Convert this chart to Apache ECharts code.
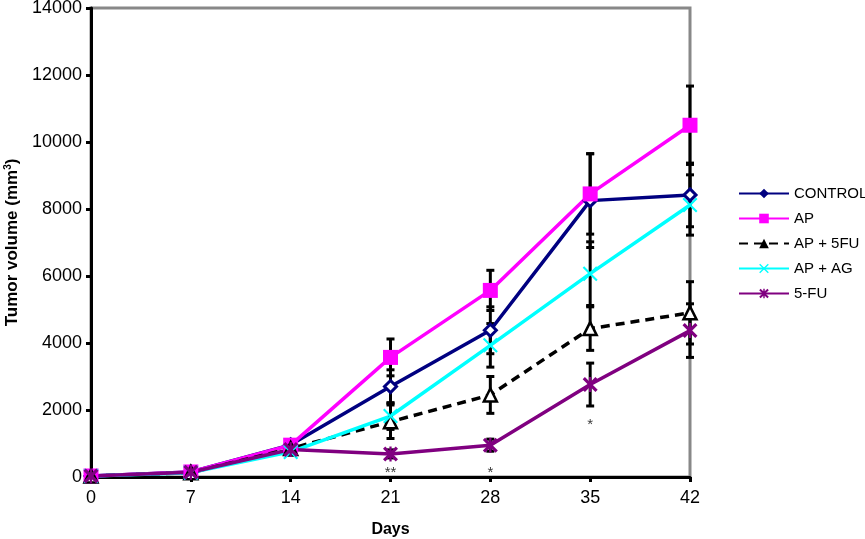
<!DOCTYPE html>
<html>
<head>
<meta charset="utf-8">
<script src="https://cdn.jsdelivr.net/npm/echarts@6/dist/echarts.min.js"></script>
<style>
  html, body { margin: 0; padding: 0; background: #fff; }
  #chart { width: 865px; height: 539px; }
</style>
</head>
<body>
<div id="chart"></div>
<script>
// days of measurement
const days = [0, 7, 14, 21, 28, 35, 42];

// mean tumor volume (mm3)
const control = [30, 150, 960, 2700, 4380, 8250, 8420];
const ap = [30, 150, 950, 3570, 5570, 8450, 10500];
const ap5fu = [30, 130, 850, 1650, 2450, 4430, 4900];
const apag = [30, 130, 750, 1820, 3930, 6070, 8120];
const fu5 = [30, 140, 820, 690, 950, 2760, 4370];

// error (+/-)
const errControl = [0, 20, 100, 500, 700, 1400, 950];
const errAp = [0, 20, 100, 550, 600, 1200, 1170];
const errAp5fu = [0, 20, 100, 500, 550, 650, 930];
const errApag = [0, 20, 100, 400, 650, 950, 900];
const errFu5 = [0, 20, 80, 120, 180, 640, 800];

// significance marks [day, y, text]
const marks = [[21, 110, '**'], [28, 110, '*'], [35, 1550, '*']];

const FONT = 'Liberation Sans, Arial, sans-serif';
const crossPath = 'path://M0,2 L2,0 L10,8 L18,0 L20,2 L12,10 L20,18 L18,20 L10,12 L2,20 L0,18 L8,10 Z';
const starPath = 'path://M0,3 L3,0 L10,7 L17,0 L20,3 L13,10 L20,17 L17,20 L10,13 L3,20 L0,17 L7,10 Z M8.5,0 L11.5,0 L11.5,20 L8.5,20 Z';

function pairs(vals) {
  return days.map((d, i) => [d, vals[i]]);
}

// error bars as custom series (black, with caps)
function errSeries(vals, errs) {
  return {
    type: 'custom',
    silent: true,
    z: 1,
    data: days.map((d, i) => [d, vals[i] - errs[i], vals[i] + errs[i]]),
    renderItem: function (params, api) {
      const lo = api.coord([api.value(0), api.value(1)]);
      const hi = api.coord([api.value(0), api.value(2)]);
      const w = 4;
      const style = { stroke: '#000', lineWidth: 3 };
      return {
        type: 'group',
        children: [
          { type: 'line', shape: { x1: lo[0], y1: lo[1], x2: hi[0], y2: hi[1] }, style: style },
          { type: 'line', shape: { x1: lo[0] - w, y1: lo[1], x2: lo[0] + w, y2: lo[1] }, style: style },
          { type: 'line', shape: { x1: hi[0] - w, y1: hi[1], x2: hi[0] + w, y2: hi[1] }, style: style }
        ]
      };
    }
  };
}

function lineSeries(name, vals, color, symbol, size, opts) {
  return Object.assign({
    name: name,
    type: 'line',
    data: pairs(vals),
    z: 3,
    symbol: symbol,
    symbolSize: size,
    showAllSymbol: true,
    lineStyle: { color: color, width: 3.5 },
    itemStyle: { color: color, borderColor: color, borderWidth: 0 },
    emphasis: { disabled: true }
  }, opts || {});
}

const chart = echarts.init(document.getElementById('chart'));

chart.setOption({
  animation: false,
  textStyle: { fontFamily: FONT },
  grid: {
    left: 91, right: 175, top: 8, bottom: 62,
    outerBoundsMode: 'none',
    containLabel: false,
    show: true, borderColor: '#888', borderWidth: 3, backgroundColor: 'transparent'
  },
  legend: {
    data: [
      { name: 'CONTROL', itemStyle: { color: '#000080', borderWidth: 0 } },
      { name: 'AP' },
      { name: 'AP + 5FU', itemStyle: { color: '#000', borderWidth: 0 } },
      { name: 'AP + AG' },
      { name: '5-FU' }
    ],
    orient: 'vertical',
    left: 733,
    top: 181,
    itemWidth: 50,
    itemHeight: 12,
    itemGap: 10,
    textStyle: { fontSize: 15, color: '#000', fontFamily: FONT }
  },
  xAxis: {
    type: 'value',
    min: 0, max: 42, interval: 7,
    name: 'Days',
    nameLocation: 'middle',
    nameGap: 45,
    nameTextStyle: { fontSize: 16, fontWeight: 'bold', color: '#000', fontFamily: FONT },
    axisLine: { lineStyle: { color: '#000', width: 3 } },
    axisTick: { show: true, length: 5, lineStyle: { color: '#000', width: 3 } },
    axisLabel: { fontSize: 18, color: '#000', margin: 12 },
    splitLine: { show: false }
  },
  yAxis: {
    type: 'value',
    min: 0, max: 14000, interval: 2000,
    name: 'Tumor volume (mm{sup|3})',
    nameLocation: 'middle',
    nameGap: 64,
    nameTextStyle: {
      fontSize: 17, fontWeight: 'bold', color: '#000', fontFamily: FONT,
      rich: { sup: { fontSize: 10, fontWeight: 'bold', verticalAlign: 'top', padding: [0, 0, 8, 0], color: '#000' } }
    },
    axisLine: { show: true, lineStyle: { color: '#000', width: 3 } },
    axisTick: { show: true, length: 5, lineStyle: { color: '#000', width: 3 } },
    axisLabel: { fontSize: 18, color: '#000', margin: 9, formatter: function (v) { return String(v); } },
    splitLine: { show: false }
  },
  series: [
    errSeries(control, errControl),
    errSeries(ap, errAp),
    errSeries(ap5fu, errAp5fu),
    errSeries(apag, errApag),
    errSeries(fu5, errFu5),
    lineSeries('CONTROL', control, '#000080', 'diamond', 12,
      { itemStyle: { color: '#fff', borderColor: '#000080', borderWidth: 3 } }),
    lineSeries('AP', ap, '#ff00ff', 'rect', 15),
    lineSeries('AP + 5FU', ap5fu, '#000', 'triangle', 13, {
      lineStyle: { color: '#000', width: 3.5, type: [9, 6] },
      itemStyle: { color: '#fff', borderColor: '#000', borderWidth: 2.5 }
    }),
    lineSeries('AP + AG', apag, '#00ffff', crossPath, 15),
    lineSeries('5-FU', fu5, '#800080', starPath, 15),
    {
      type: 'scatter',
      silent: true,
      symbolSize: 0,
      data: marks,
      label: {
        show: true,
        position: 'inside',
        formatter: function (p) { return p.data[2]; },
        fontSize: 15,
        color: '#000'
      }
    }
  ]
});
</script>
</body>
</html>
